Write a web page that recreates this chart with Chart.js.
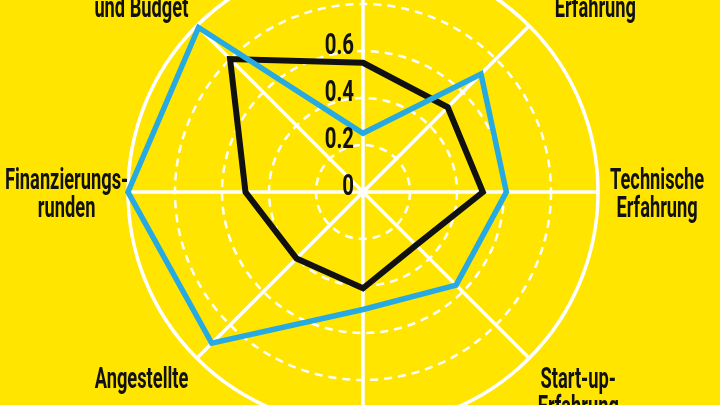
<!DOCTYPE html>
<html>
<head>
<meta charset="utf-8">
<script src="https://cdn.jsdelivr.net/npm/chart.js@4/dist/chart.umd.min.js"></script>
<style>
  html, body { margin: 0; padding: 0; background: #ffe500; width: 720px; height: 405px; overflow: hidden; }
  #wrap { position: absolute; left: 3px; top: -43px; width: 720px; height: 470px; }
</style>
</head>
<body>
<div id="wrap"><canvas id="chart" width="720" height="470"></canvas></div>
<script>
// axes, clockwise from the top (top and bottom ones sit outside the picture)
const categories = [
  ['Team-', 'größe'],
  ['Management-', 'Erfahrung'],
  ['Technische', 'Erfahrung'],
  ['Start-up-', 'Erfahrung'],
  ['Ausbildung'],
  ['Angestellte'],
  ['Finanzierungs-', 'runden'],
  ['Zeitplan', 'und Budget']
]
const blueValues = [0.25, 0.71, 0.61, 0.56, 0.50, 0.91, 1.00, 0.99]
const blackValues = [0.55, 0.51, 0.51, 0.32, 0.41, 0.40, 0.50, 0.80]
const tickLabels = [0, 0.2, 0.4, 0.6]

const SX = 0.63 // squeeze text to look condensed
const INK = '#111'

// draws the axis names and the few radial numbers
const textPlugin = {
  id: 'texts',
  afterDatasetsDraw(chart) {
    const ctx = chart.ctx
    const scale = chart.scales.r
    const n = categories.length
    ctx.save()
    ctx.fillStyle = INK
    ctx.font = 'bold 29px Roboto'
    ctx.textAlign = 'center'
    ctx.textBaseline = 'alphabetic'
    const lineH = 28
    const capH = 21
    categories.forEach((lines, i) => {
      const p = scale.getPointPosition(i, scale.drawingArea + 12)
      const deg = i * 360 / n
      const w = Math.max(...lines.map(l => ctx.measureText(l).width * SX))
      const h = capH + (lines.length - 1) * lineH
      let left
      if (deg === 0 || deg === 180) left = p.x - w / 2
      else if (deg < 180) left = p.x
      else left = p.x - w
      left = Math.max(left, 2 - scale.left)
      let top
      if (deg === 90 || deg === 270) top = p.y - h / 2
      else if (deg > 270 || deg < 90) top = p.y - h
      else top = p.y
      lines.forEach((l, k) => {
        ctx.save()
        ctx.translate(left + w / 2, top + capH + k * lineH)
        ctx.scale(SX, 1)
        ctx.fillText(l, 0, 0)
        ctx.restore()
      })
    })
    ctx.font = 'bold 30px Roboto'
    ctx.textAlign = 'right'
    tickLabels.forEach(v => {
      const y = scale.yCenter - scale.getDistanceFromCenterForValue(v) + 3
      ctx.save()
      ctx.translate(scale.xCenter - 9, y)
      ctx.scale(0.68, 1)
      ctx.fillText(String(v), 0, 0)
      ctx.restore()
    })
    ctx.restore()
  }
}

new Chart(document.getElementById('chart'), {
  type: 'radar',
  data: {
    labels: categories,
    datasets: [{
      label: 'Blau',
      data: blueValues,
      borderColor: '#27a9e1',
      borderWidth: 5.5,
      pointRadius: 0,
      fill: false
    }, {
      label: 'Schwarz',
      data: blackValues,
      borderColor: INK,
      borderWidth: 6,
      pointRadius: 0,
      fill: false
    }]
  },
  options: {
    responsive: false,
    animation: false,
    plugins: { legend: { display: false }, tooltip: { enabled: false } },
    scales: {
      r: {
        min: 0,
        max: 1,
        ticks: { display: false, stepSize: 0.2 },
        pointLabels: { display: false },
        angleLines: { color: '#fff', lineWidth: 3.5 },
        grid: {
          circular: true,
          color: '#fff',
          lineWidth: c => c.tick && c.tick.value >= 1 ? 3.5 : 2.5
        },
        border: { dash: c => c.tick && c.tick.value >= 1 ? [] : [8, 6] }
      }
    }
  },
  plugins: [textPlugin]
})
</script>
</body>
</html>
